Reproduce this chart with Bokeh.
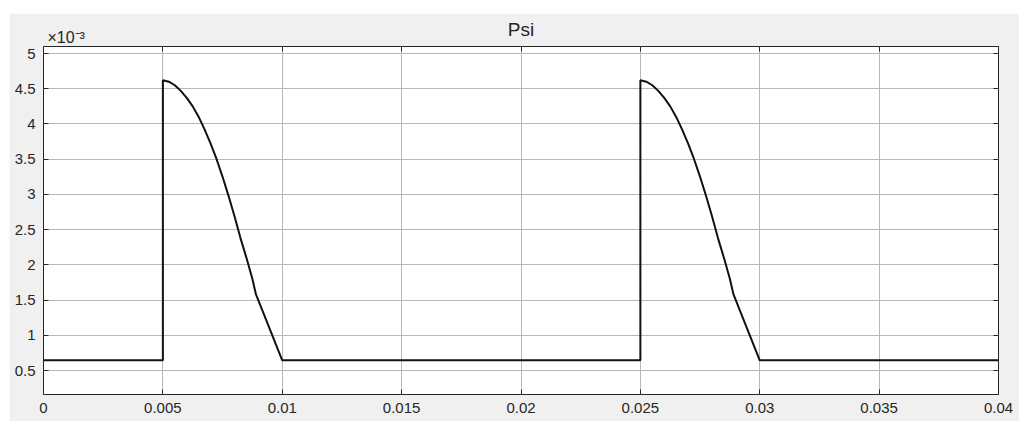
from bokeh.plotting import figure
from bokeh.models import (FixedTicker, NumeralTickFormatter, LinearAxis, Range1d, Spacer)
from bokeh.layouts import row, column
from bokeh.embed import file_html
from bokeh.resources import INLINE

# ---- data (Psi in units of 1e-3) ----
time_s = [
    0.0, 0.005,
    0.005, 0.00525, 0.0055, 0.00575, 0.006, 0.00625, 0.0065, 0.00675, 0.007,
    0.00725, 0.0075, 0.00775, 0.008, 0.00825, 0.0085, 0.00875, 0.0089, 0.01,
    0.025,
    0.025, 0.02525, 0.0255, 0.02575, 0.026, 0.02625, 0.0265, 0.02675, 0.027,
    0.02725, 0.0275, 0.02775, 0.028, 0.02825, 0.0285, 0.02875, 0.0289, 0.03,
    0.04,
]
psi_e3 = [
    0.645, 0.645,
    4.62, 4.60, 4.55, 4.47, 4.37, 4.25, 4.10, 3.92, 3.72,
    3.50, 3.25, 2.98, 2.69, 2.38, 2.10, 1.80, 1.58, 0.645,
    0.645,
    4.62, 4.60, 4.55, 4.47, 4.37, 4.25, 4.10, 3.92, 3.72,
    3.50, 3.25, 2.98, 2.69, 2.38, 2.10, 1.80, 1.58, 0.645,
    0.645,
]
x_ticks = [0, 0.005, 0.01, 0.015, 0.02, 0.025, 0.03, 0.035, 0.04]
y_ticks = [0.5, 1, 1.5, 2, 2.5, 3, 3.5, 4, 4.5, 5]
title_text = "Psi"
exponent_text = "\u00d710\u207b\u00b3"
exponent_anchor_x = 0.00095   # data x where the exponent label is centred

FONT = "Liberation Sans"
TXT = "#262626"
GRID = "#b8b8b8"
BG = "#f0f0f0"

p = figure(width=1010, height=408, output_backend="svg", toolbar_location=None,
           x_range=Range1d(0, 0.04), y_range=Range1d(0.16, 5.1),
           min_border_left=34, min_border_right=21, min_border_top=33,
           min_border_bottom=27)

p.border_fill_color = BG
p.background_fill_color = "white"
p.outline_line_color = "#262626"
p.outline_line_width = 1

p.line(time_s, psi_e3, line_color="#111111", line_width=2)

def style_axis(ax, ticks, fmt, show_labels=True):
    ax.ticker = FixedTicker(ticks=ticks)
    ax.formatter = NumeralTickFormatter(format=fmt)
    ax.axis_line_color = None
    ax.major_tick_in = 5
    ax.major_tick_out = 0
    ax.major_tick_line_color = "#262626"
    ax.minor_tick_line_color = None
    ax.major_label_text_font = FONT
    if show_labels:
        ax.major_label_text_color = TXT
        ax.major_label_text_font_size = "15px"
    else:
        # labels not painted at all
        ax.major_label_text_color = None
        ax.major_label_text_alpha = 0
        ax.major_label_text_font_size = "1px"
        ax.major_label_standoff = 0

xa = p.xaxis[0]
style_axis(xa, x_ticks, "0.[000]")
xa.major_label_standoff = 8
ya = p.yaxis[0]
style_axis(ya, y_ticks, "0.[0]")
ya.major_label_standoff = 8

ra = LinearAxis()
style_axis(ra, y_ticks, "0.[0]", show_labels=False)
p.add_layout(ra, "right")

# top axis: tick marks only
ta = LinearAxis()
style_axis(ta, x_ticks, "0.[000]", show_labels=False)
p.add_layout(ta, "above")

# top axis carrying the exponent label and the title
ea = LinearAxis()
ea.ticker = FixedTicker(ticks=[exponent_anchor_x])
ea.major_label_overrides = {exponent_anchor_x: exponent_text}
ea.axis_line_color = None
ea.major_tick_line_color = None
ea.minor_tick_line_color = None
ea.major_tick_in = 0
ea.major_tick_out = 0
ea.major_label_standoff = 1
ea.major_label_text_font = FONT
ea.major_label_text_font_size = "16px"
ea.major_label_text_color = TXT
ea.axis_label = title_text
ea.axis_label_text_font = FONT
ea.axis_label_text_font_size = "19px"
ea.axis_label_text_font_style = "normal"
ea.axis_label_text_color = TXT
ea.axis_label_standoff = -14
p.add_layout(ea, "above")

p.xgrid.ticker = FixedTicker(ticks=x_ticks)
p.ygrid.ticker = FixedTicker(ticks=y_ticks)
for g in (p.xgrid, p.ygrid):
    g.grid_line_color = GRID
    g.grid_line_width = 1

layout = row(Spacer(width=9, height=421),
             column(Spacer(width=1010, height=13), p))

open("out.html", "w").write(file_html(layout, INLINE))
